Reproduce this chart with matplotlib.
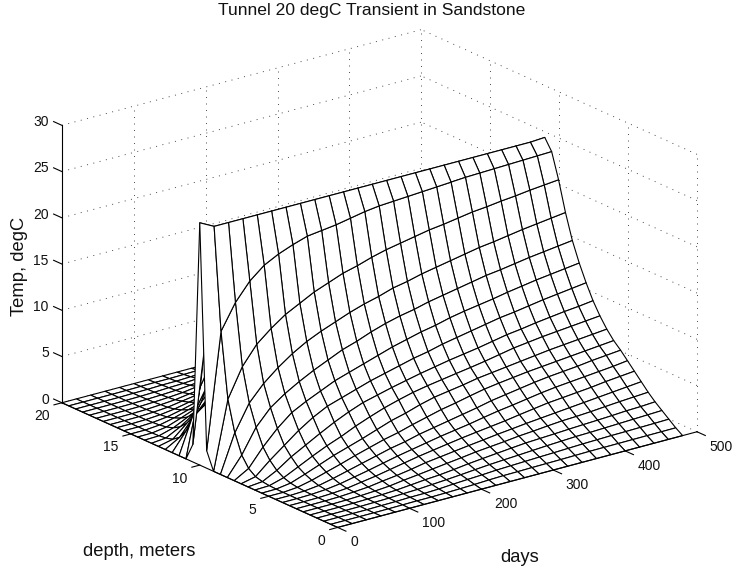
import matplotlib
matplotlib.use('Agg')
import numpy as np
import matplotlib.pyplot as plt

W, H = 733, 573
plt.rcParams['font.family'] = ['Liberation Sans', 'DejaVu Sans']

days = [0, 20, 40, 60, 80, 100, 120, 140, 160, 180, 200, 220, 240,
        260, 280, 300, 320, 340, 360, 380, 400, 420, 440, 460, 480]
depths = [0, 0.5, 1, 1.5, 2, 2.5, 3, 3.5, 4, 4.5, 5, 5.5, 6, 6.5, 7, 7.5, 8, 8.5, 9, 9.5, 10,
          10.5, 11, 11.5, 12, 12.5, 13, 13.5, 14, 14.5, 15, 15.5, 16, 16.5, 17, 17.5, 18, 18.5, 19, 19.5, 20]

# temperature read off the mesh: one row per day, columns run from the
# tunnel at 10 m (first) out to 10 m away from it (last)
temp_from_tunnel = [
    [26.2, 1.9, 0, 0, 0, 0, 0, 0, 0, 0, 0, 0, 0, 0, 0, 0, 0, 0, 0, 0, 0],
    [25.4, 14.4, 7.4, 4.1, 2.0, 0.9, 0.35, 0.15, 0.05, 0.02, 0, 0, 0, 0, 0, 0, 0, 0, 0, 0, 0],
    [25.4, 17.1, 10.5, 6.9, 4.6, 2.8, 1.7, 0.95, 0.5, 0.25, 0.13, 0.07, 0.04, 0.02, 0.01, 0, 0, 0, 0, 0, 0],
    [25.4, 19.0, 12.5, 8.6, 6.3, 4.4, 2.9, 2.0, 1.25, 0.8, 0.48, 0.25, 0.15, 0.09, 0.05, 0.03, 0.02, 0.01, 0, 0, 0],
    [25.4, 20.3, 13.8, 9.9, 7.4, 5.7, 4.1, 2.85, 2.0, 1.4, 0.95, 0.6, 0.36, 0.21, 0.15, 0.09, 0.06, 0.04, 0.03, 0.01, 0],
    [25.4, 21.1, 14.9, 11.0, 8.3, 6.5, 5.1, 3.7, 2.7, 2.0, 1.4, 1.0, 0.68, 0.46, 0.27, 0.18, 0.12, 0.08, 0.05, 0.03, 0],
    [25.4, 21.7, 15.7, 11.9, 9.1, 7.2, 5.9, 4.5, 3.3, 2.5, 1.9, 1.4, 1.0, 0.7, 0.5, 0.3, 0.2, 0.15, 0.1, 0.05, 0],
    [25.4, 22.2, 16.5, 12.6, 9.8, 7.9, 6.4, 5.2, 4.0, 3.0, 2.35, 1.8, 1.35, 1.0, 0.7, 0.52, 0.34, 0.2, 0.11, 0.05, 0],
    [25.4, 22.4, 17.1, 13.2, 10.5, 8.4, 6.9, 5.8, 4.6, 3.55, 2.8, 2.2, 1.7, 1.3, 0.95, 0.7, 0.49, 0.31, 0.17, 0.08, 0],
    [25.4, 22.6, 17.7, 13.8, 11.0, 8.9, 7.4, 6.2, 5.15, 4.1, 3.15, 2.5, 2.0, 1.6, 1.25, 0.9, 0.6, 0.42, 0.28, 0.12, 0],
    [25.4, 22.9, 18.1, 14.3, 11.6, 9.4, 7.8, 6.6, 5.6, 4.5, 3.6, 2.9, 2.3, 1.85, 1.45, 1.1, 0.77, 0.54, 0.37, 0.17, 0],
    [25.4, 23.2, 18.6, 14.7, 12.1, 9.9, 8.2, 6.95, 6.0, 5.0, 4.0, 3.2, 2.6, 2.1, 1.66, 1.29, 0.97, 0.68, 0.45, 0.24, 0],
    [25.4, 23.4, 19.0, 15.2, 12.5, 10.3, 8.6, 7.3, 6.3, 5.4, 4.4, 3.5, 2.85, 2.34, 1.86, 1.5, 1.13, 0.81, 0.55, 0.29, 0],
    [25.4, 23.5, 19.3, 15.5, 12.8, 10.7, 8.9, 7.6, 6.55, 5.65, 4.7, 3.8, 3.1, 2.55, 2.05, 1.65, 1.28, 0.91, 0.61, 0.31, 0],
    [25.4, 23.6, 19.6, 15.9, 13.2, 11.0, 9.3, 7.9, 6.8, 5.9, 5.05, 4.1, 3.4, 2.75, 2.25, 1.8, 1.43, 1.0, 0.67, 0.34, 0],
    [25.4, 23.7, 19.9, 16.2, 13.5, 11.4, 9.6, 8.15, 7.04, 6.2, 5.37, 4.45, 3.68, 2.95, 2.42, 1.98, 1.57, 1.1, 0.73, 0.36, 0],
    [25.4, 23.8, 20.1, 16.5, 13.8, 11.7, 9.9, 8.4, 7.3, 6.4, 5.6, 4.7, 3.9, 3.2, 2.6, 2.1, 1.65, 1.2, 0.78, 0.38, 0],
    [25.4, 23.9, 20.35, 16.8, 14.1, 11.95, 10.2, 8.7, 7.6, 6.6, 5.8, 4.95, 4.15, 3.43, 2.75, 2.25, 1.73, 1.28, 0.84, 0.41, 0],
    [25.4, 24.0, 20.6, 17.1, 14.4, 12.2, 10.5, 9.0, 7.9, 6.8, 6.0, 5.2, 4.4, 3.66, 2.9, 2.38, 1.82, 1.36, 0.9, 0.44, 0],
    [25.4, 24.05, 20.75, 17.3, 14.6, 12.5, 10.7, 9.2, 8.1, 7.0, 6.15, 5.4, 4.6, 3.8, 3.05, 2.45, 1.9, 1.4, 0.94, 0.45, 0],
    [25.4, 24.1, 20.95, 17.55, 14.85, 12.75, 10.95, 9.45, 8.3, 7.2, 6.3, 5.55, 4.75, 3.95, 3.2, 2.55, 1.97, 1.46, 0.98, 0.46, 0],
    [25.4, 24.15, 21.1, 17.8, 15.1, 13.0, 11.2, 9.65, 8.45, 7.35, 6.45, 5.7, 4.9, 4.1, 3.35, 2.68, 2.05, 1.52, 1.0, 0.47, 0],
    [25.4, 24.2, 21.3, 18.0, 15.3, 13.2, 11.4, 9.85, 8.6, 7.5, 6.6, 5.9, 5.05, 4.3, 3.5, 2.8, 2.15, 1.58, 1.03, 0.48, 0],
    [25.4, 24.25, 21.45, 18.2, 15.5, 13.4, 11.6, 10.0, 8.75, 7.65, 6.75, 6.05, 5.2, 4.45, 3.65, 2.9, 2.2, 1.64, 1.06, 0.49, 0],
    [25.5, 24.3, 21.6, 18.4, 15.7, 13.6, 11.8, 10.2, 8.9, 7.8, 6.9, 6.2, 5.4, 4.6, 3.8, 3.0, 2.3, 1.7, 1.1, 0.5, 0],
]

day_ticks = [0, 100, 200, 300, 400, 500]
depth_ticks = [0, 5, 10, 15, 20]
temp_ticks = [0, 5, 10, 15, 20, 25, 30]

DOT = (0, (1.2, 6.6))
DOT_KW = dict(color='#333333', lw=0.6, ls=DOT, zorder=1)
AXIS_KW = dict(color='k', lw=0.8, zorder=3)
TICK_SIZE = 10


def draw_grid(ax):
    # dotted grid on the two back walls
    for z in temp_ticks:
        ax.plot([0, 500], [20, 20], [z, z], **DOT_KW)
        ax.plot([500, 500], [0, 20], [z, z], **DOT_KW)
    for d in day_ticks[1:]:
        ax.plot([d, d], [20, 20], [0, 30], **DOT_KW)
    for d in depth_ticks[:-1]:
        ax.plot([500, 500], [d, d], [0, 30], **DOT_KW)


def draw_axes(ax):
    ax.plot([0, 500], [0, 0], [0, 0], **AXIS_KW)
    ax.plot([0, 0], [0, 20], [0, 0], **AXIS_KW)
    ax.plot([0, 0], [20, 20], [0, 30], **AXIS_KW)

    for d in day_ticks:
        ax.plot([d, d], [0, -0.6], [0, 0], **AXIS_KW)
        ax.text(d, -0.91, -1.0, str(d), ha='left', va='center', fontsize=TICK_SIZE, color='#111111')
    for d in depth_ticks:
        ax.plot([0, -11], [d, d], [0, 0], **AXIS_KW)
        ax.text(-17.4, d, -1.1, str(d), ha='right', va='center', fontsize=TICK_SIZE, color='#111111')
    for z in temp_ticks:
        ax.plot([0, 0], [20, 20.6], [z, z], **AXIS_KW)
        ax.text(0, 20.95, z - 0.3, str(z), ha='right', va='center', fontsize=TICK_SIZE, color='#111111')


profile = np.array(temp_from_tunnel)
# same fall-off on both sides of the tunnel
temps = np.hstack([profile[:, :0:-1], profile])
X, Y = np.meshgrid(days, depths, indexing='ij')

fig = plt.figure(figsize=(W / 100, H / 100), dpi=100)
side = 685
ax = fig.add_axes([27.7 / W, -57.3 / H, side / W, side / H], projection='3d')
ax.computed_zorder = False
ax.set_proj_type('ortho')
ax.view_init(elev=20.3, azim=-127.5)
ax.set_box_aspect((1, 1, 0.653))
ax.set_xlim(0, 500)
ax.set_ylim(0, 20)
ax.set_zlim(0, 30)
ax.set_axis_off()

draw_grid(ax)
ax.plot_surface(X, Y, temps, rstride=1, cstride=1, color='white', edgecolor='k',
                linewidth=0.8, shade=False, zorder=2)
draw_axes(ax)

fig.text(372 / W, 1 - 10 / H, 'Tunnel 20 degC Transient in Sandstone', ha='center', va='center',
         fontsize=12.6, color='#111111')
fig.text(20 / W, 1 - 266 / H, 'Temp, degC', rotation=90, ha='center', va='center',
         fontsize=13.2, color='#111111')
fig.text(139 / W, 1 - 552 / H, 'depth, meters', ha='center', va='center', fontsize=13.2, color='#111111')
fig.text(520 / W, 1 - 558 / H, 'days', ha='center', va='center', fontsize=13.2, color='#111111')

fig.savefig('out.png', dpi=100)
